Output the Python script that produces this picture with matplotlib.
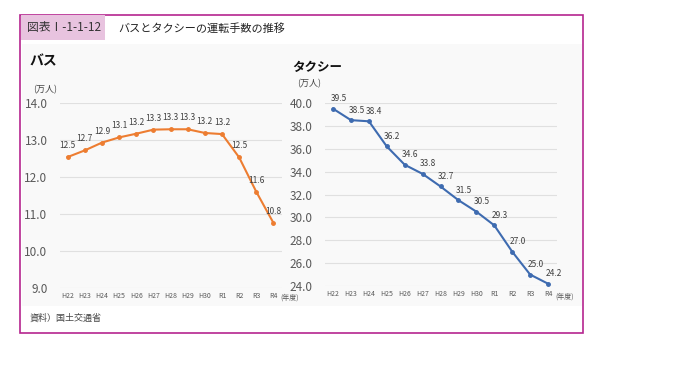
import matplotlib
matplotlib.use("Agg")
import matplotlib.pyplot as plt
from matplotlib.patches import Rectangle

plt.rcParams['font.family'] = ['Noto Sans CJK JP', 'DejaVu Sans']

years = ["H22", "H23", "H24", "H25", "H26", "H27", "H28", "H29", "H30", "R1", "R2", "R3", "R4"]
bus = [12.54, 12.72, 12.93, 13.07, 13.17, 13.28, 13.29, 13.29, 13.19, 13.16, 12.53, 11.6, 10.76]
taxi = [39.5, 38.5, 38.4, 36.2, 34.6, 33.8, 32.7, 31.5, 30.5, 29.3, 27.0, 25.0, 24.2]
bus_ticks = [9.0, 10.0, 11.0, 12.0, 13.0, 14.0]
taxi_ticks = [24.0, 26.0, 28.0, 30.0, 32.0, 34.0, 36.0, 38.0, 40.0]

W, H = 690, 388
fig = plt.figure(figsize=(W / 100, H / 100), dpi=100)

def fx(px):
    return px / W

def fy(py):
    return 1 - py / H

# outer frame
fig.patches.append(Rectangle((fx(20), fy(333)), fx(563), 318 / H, transform=fig.transFigure,
                             facecolor='white', edgecolor='#b5258f', linewidth=1.2, zorder=-10))
# light panel
fig.patches.append(Rectangle((fx(22), fy(306)), fx(560), 262 / H, transform=fig.transFigure,
                             facecolor='#f9f9f9', edgecolor='none', zorder=-9))
# header box
fig.patches.append(Rectangle((fx(21), fy(40)), fx(84), 25 / H, transform=fig.transFigure,
                             facecolor='#e8c3df', edgecolor='none', zorder=-8))
fig.text(fx(27), fy(28), "図表Ⅰ-1-1-12", fontsize=8.5, va='center', ha='left', color='#333333')
fig.text(fx(118), fy(28), "バスとタクシーの運転手数の推移", fontsize=8, va='center', ha='left', color='#222222')

fig.text(fx(30), fy(61), "バス", fontsize=10, fontweight='bold', va='center', ha='left', color='#111111')
fig.text(fx(292), fy(67), "タクシー", fontsize=9, fontweight='bold', va='center', ha='left', color='#111111')
fig.text(fx(33), fy(90), "(万人)", fontsize=6.5, va='center', ha='left', color='#444444')
fig.text(fx(297), fy(84), "(万人)", fontsize=6.5, va='center', ha='left', color='#444444')
fig.text(fx(30), fy(318), "資料）国土交通省", fontsize=6.5, va='center', ha='left', color='#444444')


def style(ax, ticks, fmt="{:.1f}"):
    ax.set_facecolor('none')
    for s in ax.spines.values():
        s.set_visible(False)
    ax.set_yticks(ticks)
    ax.set_yticklabels([fmt.format(t) for t in ticks], fontsize=8.5, color='#595959')
    ax.set_xticks(range(len(years)))
    ax.set_xticklabels(years, fontsize=5, color='#595959')
    ax.tick_params(length=0, pad=3)
    ax.tick_params(axis='y', pad=9)
    ax.grid(axis='y', color='#e0e0e0', linewidth=0.8)
    ax.set_axisbelow(True)
    ax.set_xlim(-0.45, 12.5)


ax1 = fig.add_axes([fx(60), fy(288), fx(222), (288 - 103) / H])
ax1.plot(range(len(years)), bus, color='#ed7d31', linewidth=1.5, marker='o', markersize=2.5)
ax1.set_ylim(9.0, 14.0)
style(ax1, bus_ticks)
for i, v in enumerate(bus):
    ax1.annotate("{:.1f}".format(v), (i, v), textcoords='offset points', xytext=(0, 5),
                 ha='center', va='bottom', fontsize=6, color='#404040')
fig.text(fx(280), fy(298), "(年度)", fontsize=5, va='center', ha='left', color='#595959')

ax2 = fig.add_axes([fx(325), fy(286), fx(232), (286 - 103) / H])
ax2.plot(range(len(years)), taxi, color='#3e6bb0', linewidth=1.5, marker='o', markersize=2.5)
ax2.set_ylim(24.0, 40.0)
style(ax2, taxi_ticks)
for i, v in enumerate(taxi):
    ax2.annotate("{:.1f}".format(v), (i, v), textcoords='offset points', xytext=(4, 4),
                 ha='center', va='bottom', fontsize=6, color='#404040')
fig.text(fx(555), fy(297), "(年度)", fontsize=5, va='center', ha='left', color='#595959')

fig.savefig("out.png", dpi=100)
